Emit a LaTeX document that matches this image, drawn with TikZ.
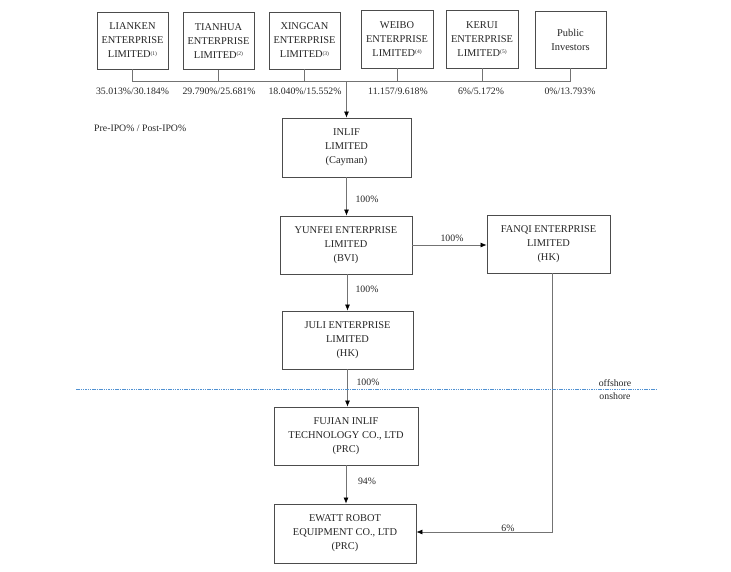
\documentclass[tikz,border=0pt]{standalone}
\usepackage{fontspec}
\setmainfont{Liberation Serif}
\usetikzlibrary{arrows.meta}
\newcommand{\fnmark}[1]{\raisebox{2.5pt}{\fontsize{5.5}{6}\selectfont(#1)}}
\begin{document}
\begin{tikzpicture}[x=1pt,y=-1pt,
  box/.style={draw=black!70,line width=0.8pt,fill=white,align=center,inner sep=0pt,
    font=\fontsize{10.4}{14}\selectfont,text=black!85},
  topbox/.style={box,minimum width=71pt,minimum height=57pt},
  line/.style={draw=black!55,line width=0.7pt},
  arr/.style={line,-{Latex[length=6pt,width=5pt,black]}},
  lbl/.style={font=\fontsize{9.8}{12}\selectfont,text=black!85,inner sep=0pt}]
\useasboundingbox (0,0) rectangle (731,571);
% top boxes
\node[topbox] (lianken) at (132.5,40.5) {LIANKEN\\ENTERPRISE\\LIMITED\fnmark{1}};
\node[topbox] (tianhua) at (218.5,41) {TIANHUA\\ENTERPRISE\\LIMITED\fnmark{2}};
\node[topbox] (xingcan) at (304.5,40.5) {XINGCAN\\ENTERPRISE\\LIMITED\fnmark{3}};
\node[topbox,minimum width=72pt,minimum height=58pt] (weibo) at (397,39) {WEIBO\\ENTERPRISE\\LIMITED\fnmark{4}};
\node[topbox,minimum width=72pt,minimum height=58pt] (kerui) at (482,39) {KERUI\\ENTERPRISE\\LIMITED\fnmark{5}};
\node[topbox] (public) at (570.5,39.5) {Public\\Investors};
% bus
\coordinate (busY) at (0,81);
\draw[line] (lianken.south) -- (lianken.south |- busY) -- (public.south |- busY) -- (public.south);
\draw[line] (tianhua.south) -- (tianhua.south |- busY);
\draw[line] (xingcan.south) -- (xingcan.south |- busY);
\draw[line] (weibo.south) -- (weibo.south |- busY);
\draw[line] (kerui.south) -- (kerui.south |- busY);
% percentages
\node[lbl] (p1) at (132.5,91) {35.013\%/30.184\%};
\node[lbl] (p2) at (219,91) {29.790\%/25.681\%};
\node[lbl] (p3) at (305,91) {18.040\%/15.552\%};
\node[lbl] (p4) at (398,91) {11.157/9.618\%};
\node[lbl] (p5) at (481,91) {6\%/5.172\%};
\node[lbl] (p6) at (570,91) {0\%/13.793\%};
\node[lbl,anchor=west] (prepost) at (94,128) {Pre-IPO\% / Post-IPO\%};
% main chain
\node[box,minimum width=129pt,minimum height=59pt] (inlif) at (346.5,147.5) {INLIF\\LIMITED\\(Cayman)};
\node[box,minimum width=132pt,minimum height=58pt] (yunfei) at (346,245) {YUNFEI ENTERPRISE\\LIMITED\\(BVI)};
\node[box,minimum width=123pt,minimum height=58pt] (fanqi) at (548.5,244) {FANQI ENTERPRISE\\LIMITED\\(HK)};
\node[box,minimum width=131pt,minimum height=58pt] (juli) at (347.5,340) {JULI ENTERPRISE\\LIMITED\\(HK)};
\node[box,minimum width=144pt,minimum height=58pt] (fujian) at (346,436) {FUJIAN INLIF\\TECHNOLOGY CO., LTD\\(PRC)};
\node[box,minimum width=142pt,minimum height=59pt] (ewatt) at (345,533.5) {EWATT ROBOT\\EQUIPMENT CO., LTD\\(PRC)};
% arrows
\draw[arr] (inlif.north |- busY) -- (inlif.north);
\draw[arr] (inlif.south) -- (inlif.south |- yunfei.north);
\draw[arr] (yunfei.east) -- (fanqi.west |- yunfei.east);
\draw[arr] (yunfei.south -| juli.north) -- (juli.north);
\draw[arr] (juli.south) -- (juli.south |- fujian.north);
\draw[arr] (fujian.south) -- (fujian.south |- ewatt.north);
\draw[arr] ([xshift=4pt]fanqi.south) |- ([yshift=1.5pt]ewatt.east);
% arrow labels
\node[lbl] (l1) at (367,199) {100\%};
\node[lbl] (l2) at (452,238) {100\%};
\node[lbl] (l3) at (367,289) {100\%};
\node[lbl] (l4) at (368,382) {100\%};
\node[lbl] (l5) at (367,481) {94\%};
\node[lbl] (l6) at (508,528) {6\%};
% offshore / onshore
\coordinate (dl) at (76,389);
\coordinate (dr) at (657,389);
\draw[draw={rgb,255:red,80;green,145;blue,210},line width=0.9pt,dash pattern=on 1.5pt off 0.8pt] (dl) -- (dr);
\node[lbl] (off) at (615,383) {offshore};
\node[lbl] (on) at (615,396) {onshore};
\end{tikzpicture}
\end{document}
